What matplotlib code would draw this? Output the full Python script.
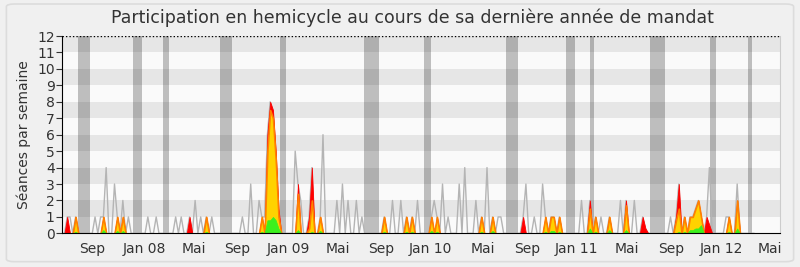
import matplotlib
matplotlib.use("Agg")
import matplotlib.pyplot as plt
import numpy as np
from matplotlib.patches import FancyBboxPatch

# weekly x axis (week index since start of the period)
n_weeks = 258.4

# grey line: sessions per week in the hemicycle (peaks only, zeros elsewhere)
gray_weeks = [3, 12, 14, 16, 19, 22, 24, 31, 34, 41, 43, 48, 50, 52, 54,
              65, 68, 71, 73, 84, 86, 94, 99, 101, 103, 106, 108,
              119, 122, 128, 134, 137, 139, 143, 145, 149, 153, 157, 158,
              167, 170, 173, 187, 194, 201, 206, 219, 233, 239, 243]
gray_vals = [1, 1, 1, 4, 3, 2, 1, 1, 1, 1, 1, 2, 1, 1, 1,
             1, 3, 2, 1, 5, 2, 6, 2, 3, 2, 2, 1,
             2, 2, 2, 2, 3, 1, 3, 4, 2, 4, 1, 1,
             3, 1, 3, 2, 1, 2, 2, 1, 4, 1, 3]

# coloured areas: red (presence), yellow (interventions), green (long interventions)
col_weeks = [2, 5, 15, 20, 22, 46, 52, 72, 74, 75, 76, 77, 78, 85, 89, 90, 93,
             116, 124, 126, 133, 135, 151, 155, 166, 174, 176, 177, 179,
             190, 192, 197, 203, 209, 210, 221, 222, 224, 226, 227, 228, 229, 230,
             232, 233, 240, 243]
red_vals = [1, 1, 1, 1, 1, 1, 1, 1, 6, 8, 7.5, 5, 1.5, 3, 1, 4, 1,
            1, 1, 1, 1, 1, 1, 1, 1, 1, 1, 1, 1,
            2, 1, 1, 2, 1, 0.3, 1, 3, 1, 1, 1, 1.5, 2, 1,
            1, 0.5, 1, 2]
yellow_vals = [0, 1, 1, 1, 1, 0, 1, 1, 5, 7.5, 7, 4.5, 1, 2.4, 0.3, 2, 1,
               1, 1, 1, 1, 1, 1, 1, 0, 1, 1, 1, 1,
               1.5, 1, 1, 1.7, 0, 0, 0.8, 1.5, 1, 1, 1, 1.5, 2, 1,
               0, 0, 1, 2]
green_vals = [0, 0.1, 0.2, 0.15, 0.15, 0, 0.1, 0.1, 0.8, 0.8, 1.0, 0.8, 0.3, 0.2, 0, 0.1, 0.15,
              0.1, 0.1, 0.1, 0.15, 0.1, 0.1, 0.15, 0, 0.1, 0.15, 0.15, 0.1,
              0.3, 0.1, 0.2, 0.2, 0, 0, 0, 0.1, 0.1, 0.2, 0.2, 0.3, 0.3, 0.5,
              0, 0, 0.1, 0.3]

# parliamentary holidays (start week, end week)
vac_start = [5.9, 25.6, 36.4, 56.9, 78.5, 108.7, 130.3, 159.8, 181.4, 190.0, 211.6, 233.2, 246.9]
vac_end = [10.2, 28.9, 38.6, 61.3, 80.7, 114.1, 132.8, 164.1, 184.6, 191.5, 217.0, 235.4, 248.3]

tick_weeks = [11.1, 29.7, 47.5, 63.3, 81.4, 99.3, 115.1, 132.5, 151.4, 167.3,
              185.2, 203.2, 219.2, 237.2, 254.8]
tick_labels = ["Sep", "Jan 08", "Mai", "Sep", "Jan 09", "Mai", "Sep", "Jan 10",
               "Mai", "Sep", "Jan 11", "Mai", "Sep", "Jan 12", "Mai"]

weeks = np.arange(0, 250)
gray = np.zeros(len(weeks))
gray[gray_weeks] = gray_vals
red = np.zeros(len(weeks))
red[col_weeks] = red_vals
yellow = np.zeros(len(weeks))
yellow[col_weeks] = yellow_vals
green = np.zeros(len(weeks))
green[col_weeks] = green_vals
gray = np.maximum(gray, red)

fig = plt.figure(figsize=(8, 2.67), dpi=100, facecolor="#f0f0f0")
frame = FancyBboxPatch((0.008, 0.02), 0.984, 0.965, boxstyle="round,pad=0,rounding_size=0.01",
                       transform=fig.transFigure, facecolor="#f0f0f0",
                       edgecolor="#dcdcdc", lw=1.2, zorder=-10)
fig.patches.append(frame)
ax = fig.add_axes([0.0771, 0.126, 0.8979, 0.739])
ax.set_facecolor("#fafafa")

for k in range(1, 12, 2):
    ax.axhspan(k, k + 1, color="#e6e6e6", lw=0, zorder=0)
for a, b in zip(vac_start, vac_end):
    ax.axvspan(a, b, color="black", alpha=0.24, lw=0, zorder=0.5)

ax.plot(weeks, gray, color="#b4b4b4", lw=1, zorder=1)
ax.fill_between(weeks, 0, red, facecolor="#ff0000", edgecolor="#ff0000", lw=0.6, zorder=2)
ax.fill_between(weeks, 0, yellow, facecolor="#ffd200", edgecolor="#ff8000", lw=1.2, zorder=2.1)
ax.fill_between(weeks, 0, green, facecolor="#3cf01e", edgecolor="#3cf01e", lw=0.5, zorder=2.2)
ax.axhline(12, color="black", ls=(0, (1, 1.5)), lw=1, zorder=3)

ax.set_xlim(0, n_weeks)
ax.set_ylim(0, 12)
ax.set_yticks(range(0, 13))
ax.set_xticks(tick_weeks)
ax.set_xticklabels(tick_labels)
ax.tick_params(axis="x", length=0, labelsize=10, colors="#333333", pad=6)
ax.tick_params(axis="y", length=4, labelsize=10, colors="#333333", pad=1)
ax.spines["top"].set_visible(False)
ax.spines["right"].set_color("#cccccc")
ax.spines["left"].set_color("black")
ax.spines["bottom"].set_color("black")
ax.spines["left"].set_zorder(4)
ax.spines["bottom"].set_zorder(4)

ax.set_ylabel("Séances par semaine", fontsize=10, color="#333333", labelpad=4)
fig.suptitle("Participation en hemicycle au cours de sa dernière année de mandat",
             fontsize=12.5, color="#333333", x=0.515, y=0.97)

fig.savefig("out.png", dpi=100, facecolor=fig.get_facecolor())
